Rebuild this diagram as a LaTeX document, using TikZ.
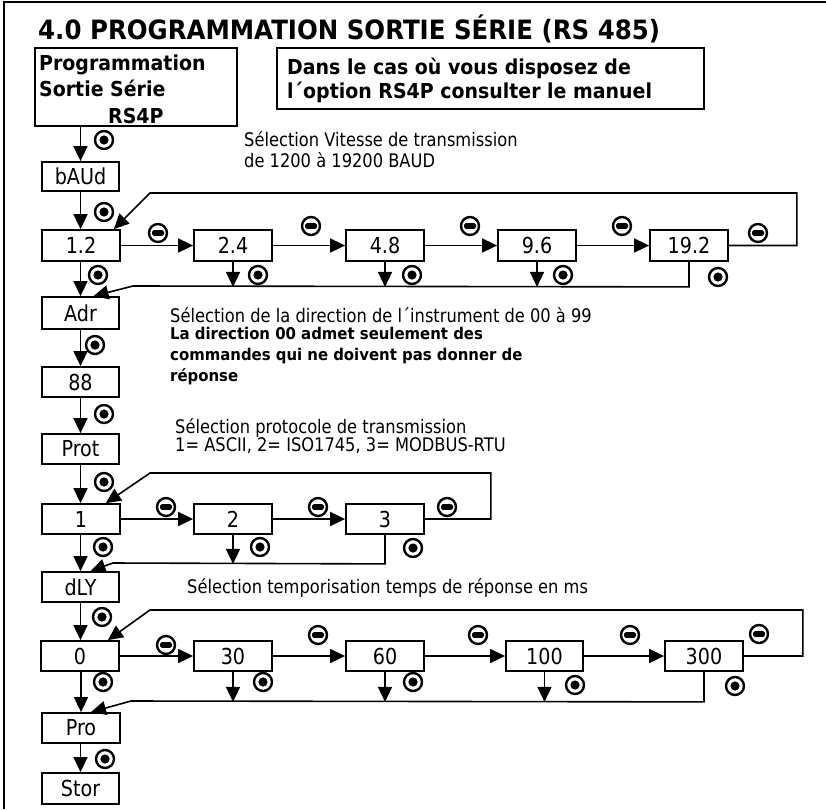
\documentclass[tikz,border=0pt]{standalone}
\usepackage{fontspec}
\setmainfont{DejaVu Sans}[FakeStretch=0.87]
\newfontfamily\bff{DejaVu Sans}[FakeStretch=0.92]
\usetikzlibrary{arrows.meta}
\newcommand\lblfont{\fontsize{22}{26}\selectfont}
\newcommand\txtfont{\fontsize{18.7}{22}\selectfont}
\newcommand\mkbox[6]{\node[box, minimum width={#4-#2}, minimum height={#5-#3}] (#1) at ({(#2+#4)/2},{(#3+#5)/2}) {#6};}
\begin{document}
\begin{tikzpicture}[x=1pt,y=-1pt,
  box/.style={draw, line width=1.8pt, inner sep=0pt, font=\lblfont},
  arr/.style={line width=1.6pt, -{Triangle[length=15pt,width=14pt]}},
  txt/.style={anchor=base west, inner sep=0pt, font=\txtfont},
  btxt/.style={anchor=base west, inner sep=0pt, font=\bff\bfseries\fontsize{20.6}{24}\selectfont},
  ntxt/.style={anchor=base west, inner sep=0pt, font=\bff\bfseries\fontsize{16.2}{20}\selectfont},
  okpic/.pic={\draw[line width=2.4pt] (0,0) circle (9); \fill (0,0) circle (4.6);},
  minuspic/.pic={\draw[line width=2.4pt] (0,0) circle (9); \fill[rounded corners=1.8pt] (-6,-2.9) rectangle (6,2.9);}
]
\useasboundingbox (0,0) rectangle (826,809);
\draw[line width=2pt] (4,809) -- (4,2) -- (826,2);

\node[anchor=base west, inner sep=0pt, font=\bff\bfseries\fontsize{26.6}{30}\selectfont] (title) at (38,39) {4.0 PROGRAMMATION SORTIE SÉRIE (RS 485)};

% header boxes
\mkbox{prog}{35}{48}{237}{126}{}
\node[btxt] (progA) at (39,70) {Programmation};
\node[btxt] (progB) at (39,96) {Sortie Série};
\node[btxt] (progC) at (108,123) {RS4P};
\mkbox{note}{277}{48}{704}{109}{}
\node[btxt] (noteA) at (287,74) {Dans le cas où vous disposez de};
\node[btxt] (noteB) at (287,98) {l´option RS4P consulter le manuel};

% boxes
\mkbox{bAUd}{42}{162}{119}{191}{bAUd}
\mkbox{b12}{42}{230}{120}{261}{1.2}
\mkbox{b24}{194}{230}{272}{261}{2.4}
\mkbox{b48}{346}{230}{424}{261}{4.8}
\mkbox{b96}{498}{230}{576}{261}{9.6}
\mkbox{b192}{650}{230}{728}{261}{19.2}
\mkbox{Adr}{42}{297}{119}{329}{Adr}
\mkbox{b88}{42}{367}{119}{397}{88}
\mkbox{Prot}{42}{434}{119}{464}{Prot}
\mkbox{p1}{42}{504}{120}{534}{1}
\mkbox{p2}{194}{504}{272}{534}{2}
\mkbox{p3}{346}{504}{424}{534}{3}
\mkbox{dLY}{42}{572}{119}{602}{dLY}
\mkbox{t0}{41}{641}{119}{671}{0}
\mkbox{t30}{194}{641}{272}{671}{30}
\mkbox{t60}{346}{641}{424}{671}{60}
\mkbox{t100}{506}{641}{583}{671}{100}
\mkbox{t300}{665}{641}{743}{671}{300}
\mkbox{Pro}{42}{713}{120}{743}{Pro}
\mkbox{Stor}{42}{773}{119}{804}{Stor}

% texts
\node[txt] (vitA) at (244,146) {Sélection Vitesse de transmission};
\node[txt] (vitB) at (244,167) {de 1200 à 19200 BAUD};
\node[txt] (adrA) at (170,322) {Sélection de la direction de l´instrument de 00 à 99};
\node[ntxt] (adrB) at (170,339) {La direction 00 admet seulement des};
\node[ntxt] (adrC) at (170,360) {commandes qui ne doivent pas donner de};
\node[ntxt] (adrD) at (170,381) {réponse};
\node[txt] (proA) at (175,433) {Sélection protocole de transmission};
\node[txt] (proB) at (175,451) {1= ASCII, 2= ISO1745, 3= MODBUS-RTU};
\node[txt] (dlyA) at (187,593) {Sélection temporisation temps de réponse en ms};

% main column
\draw[arr] (prog.south -| bAUd.north) -- (bAUd.north);
\draw[arr] (bAUd.south) -- (bAUd.south |- b12.north);
\draw[arr] (b12.south -| Adr.north) -- (Adr.north);
\draw[arr] (Adr.south) -- (b88.north);
\draw[arr] (b88.south) -- (Prot.north);
\draw[arr] (Prot.south) -- (Prot.south |- p1.north);
\draw[arr] (p1.south -| dLY.north) -- (dLY.north);
\draw[arr] (dLY.south) -- (dLY.south |- t0.north);
\draw[arr] (t0.south -| Pro.north) -- (Pro.north);
\draw[arr] (Pro.south -| Stor.north) -- (Stor.north);

% baud row
\draw[arr] (b12.east) -- (b24.west);
\draw[arr] (b24.east) -- (b48.west);
\draw[arr] (b48.east) -- (b96.west);
\draw[arr] (b96.east) -- (b192.west);
\draw[arr] (b192.east) -- ++(68,0) |- (150,193) -- ([xshift=-7pt]b12.north east);
\draw[arr] (b192.south) -- ++(0,25) -- (133,286) -- ([xshift=13pt]Adr.north);
\draw[arr] (b24.south) -- ++(0,25);
\draw[arr] (b48.south) -- ++(0,25);
\draw[arr] (b96.south) -- ++(0,25);

% protocol row
\draw[arr] (p1.east) -- (p2.west);
\draw[arr] (p2.east) -- (p3.west);
\draw[arr] (p3.east) -- ++(66,0) |- (150,473) -- ([xshift=-15pt]p1.north east);
\draw[arr] (p3.south) -- ++(0,29) -- (113,563) -- ([xshift=10pt]dLY.north);
\draw[arr] (p2.south) -- ++(0,29);

% delay row
\draw[arr] (t0.east) -- (t30.west);
\draw[arr] (t30.east) -- (t60.west);
\draw[arr] (t60.east) -- (t100.west);
\draw[arr] (t100.east) -- (t300.west);
\draw[arr] (t300.east) -- ++(59,0) |- (150,610) -- ([xshift=-12pt]t0.north east);
\draw[arr] (t300.south) -- ++(0,30) -- (131,701) -- ([xshift=10pt]Pro.north);
\draw[arr] (t30.south) -- ++(0,30);
\draw[arr] (t60.south) -- ++(0,30);
\draw[arr] (t100.south) -- ++(0,30);

% enter symbols
\foreach \p in {(104,140),(104,212),(98,275),(258,275),(412,275),(563,275),(718,277),
  (95,345),(104,414),(104,482),(103,547),(260,547),(413,548),(102,617),
  (103,682),(263,682),(413,682),(575,685),(735,686),(105,759)}
  \pic at \p {okpic};
% minus symbols
\foreach \p in {(158,233),(311,226),(470,226),(622,226),(758,233),
  (166,507),(318,507),(447,507),
  (166,645),(318,635),(478,635),(630,635),(759,634)}
  \pic at \p {minuspic};
\end{tikzpicture}
\end{document}
